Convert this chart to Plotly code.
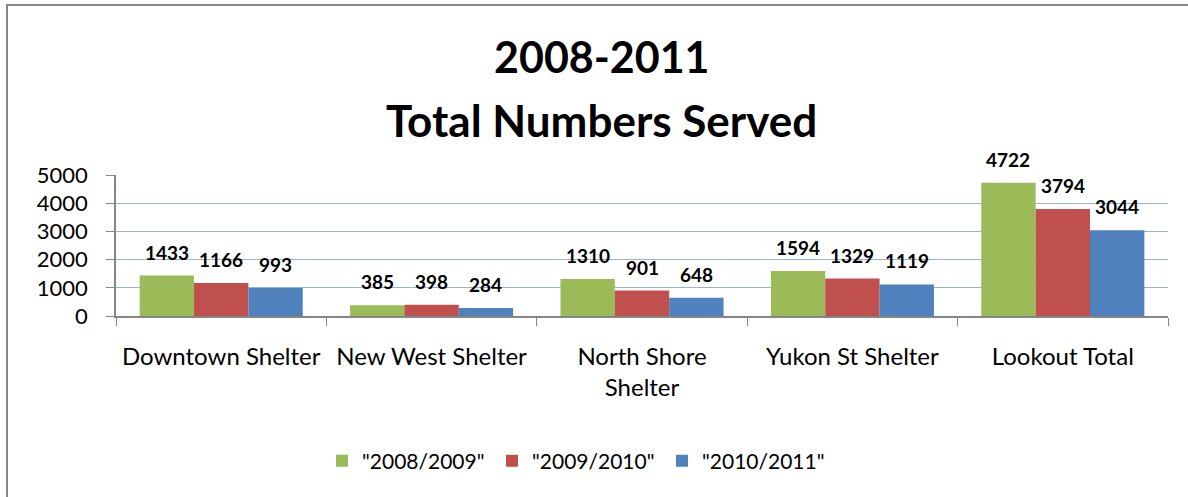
import plotly.graph_objects as go

categories = ["Downtown Shelter", "New West Shelter", "North Shore<br>Shelter", "Yukon St Shelter", "Lookout Total"]
series_names = ['"2008/2009"', '"2009/2010"', '"2010/2011"']
v_2008 = [1433, 385, 1310, 1594, 4722]
v_2009 = [1166, 398, 901, 1329, 3794]
v_2010 = [993, 284, 648, 1119, 3044]
y_ticks = [0, 1000, 2000, 3000, 4000, 5000]
title_lines = ["2008-2011", "Total Numbers Served"]

colors = ["#9BBB59", "#C0504D", "#4F81BD"]
series = [v_2008, v_2009, v_2010]

W, H = 1188, 497
ML, MR, MT, MB = 116, 20, 175, 181
PW, PH = W - ML - MR, H - MT - MB

def px_x(px):
    return (px - ML) / PW

def px_y(py):
    return (H - MB - py) / PH

FONT = "Lato"

fig = go.Figure()
for name, vals, c in zip(series_names, series, colors):
    fig.add_trace(go.Bar(x=categories, y=vals, name=name, marker=dict(color=c, line=dict(width=0))))

bar_w = PW / len(categories) * (1 - 0.225) / 3
for i, (vals) in enumerate(series):
    for cat, v in zip(categories, vals):
        fig.add_annotation(x=cat, y=v, text=f"<b>{v}</b>", showarrow=False,
                           xshift=(i - 1) * bar_w, yshift=10, yanchor="bottom",
                           font=dict(family=FONT, size=19, color="black"))

fig.add_annotation(xref="paper", yref="paper", x=px_x(602), y=px_y(56), text=f"<b>{title_lines[0]}</b>",
                   showarrow=False, yanchor="middle", font=dict(family=FONT, size=43, color="black"))
fig.add_annotation(xref="paper", yref="paper", x=px_x(601), y=px_y(120), text=f"<b>{title_lines[1]}</b>",
                   showarrow=False, yanchor="middle", font=dict(family=FONT, size=44, color="black"))

# chart frame
fig.add_shape(type="line", xref="paper", yref="paper", x0=px_x(7), x1=px_x(7), y0=px_y(5), y1=px_y(H + 5),
              line=dict(color="#868686", width=2))
fig.add_shape(type="line", xref="paper", yref="paper", x0=px_x(6), x1=px_x(W + 5), y0=px_y(5), y1=px_y(5),
              line=dict(color="#868686", width=2))

fig.update_layout(
    width=W, height=H,
    margin=dict(l=ML, r=MR, t=MT, b=MB),
    paper_bgcolor="white", plot_bgcolor="white",
    barmode="group", bargap=0.225, bargroupgap=0,
    font=dict(family=FONT, color="black"),
    showlegend=True,
    legend=dict(orientation="h", x=px_x(577), xanchor="center", y=px_y(461), yanchor="middle",
                font=dict(family=FONT, size=21, color="black"), entrywidth=125, entrywidthmode="pixels",
                itemclick=False),
    xaxis=dict(showline=True, linecolor="#868686", linewidth=1.5, ticks="outside", tickson="boundaries",
               ticklen=8, tickcolor="#868686", tickfont=dict(family=FONT, size=24, color="black"),
               ticklabelstandoff=18, showgrid=False, fixedrange=True),
    yaxis=dict(range=[0, 5000], tickvals=y_ticks, showline=True, linecolor="#868686", linewidth=1.5,
               ticks="outside", ticklen=8, tickcolor="#868686", showgrid=True, gridcolor="#92B4DE",
               gridwidth=1.2, zeroline=False, tickfont=dict(family=FONT, size=22, color="black"),
               ticklabelstandoff=14, fixedrange=True),
)

fig.write_html("out.html", config={"displayModeBar": False})
